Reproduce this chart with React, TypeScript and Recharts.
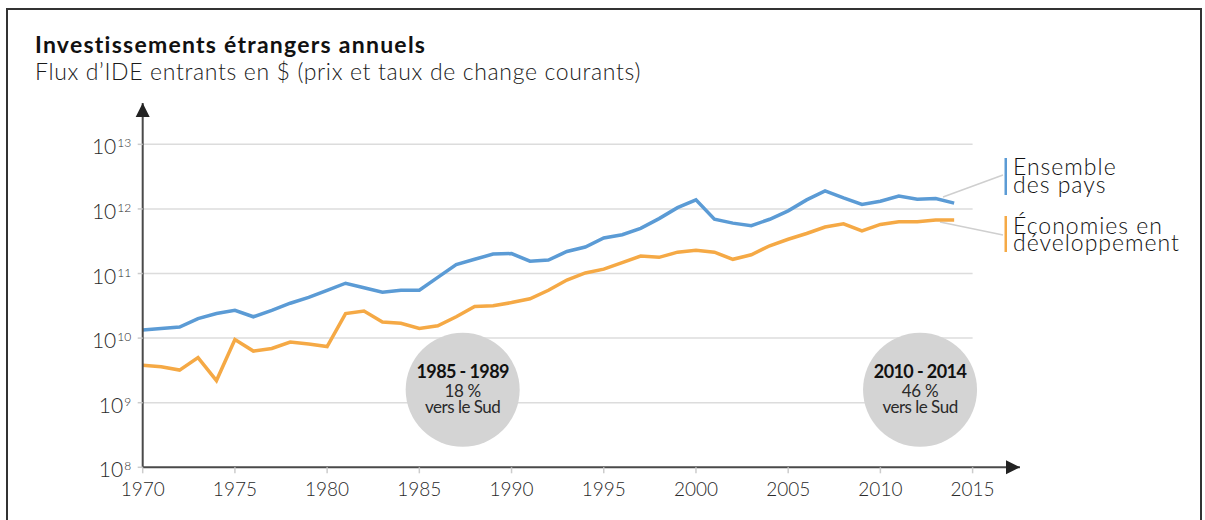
import React from "react";
import {
  LineChart,
  Line,
  XAxis,
  YAxis,
  ReferenceLine,
  ReferenceDot,
} from "recharts";

// Années 1970 → 2014
const years = [
  1970, 1971, 1972, 1973, 1974, 1975, 1976, 1977, 1978, 1979,
  1980, 1981, 1982, 1983, 1984, 1985, 1986, 1987, 1988, 1989,
  1990, 1991, 1992, 1993, 1994, 1995, 1996, 1997, 1998, 1999,
  2000, 2001, 2002, 2003, 2004, 2005, 2006, 2007, 2008, 2009,
  2010, 2011, 2012, 2013, 2014,
];

// Flux d'IDE entrants, en milliards de $
const ensembleDesPays = [
  13.3, 14.1, 14.8, 20.0, 24.0, 26.9, 21.4, 26.9, 34.7, 42.7,
  55, 70.8, 60.3, 51.3, 55, 55, 87, 138, 166, 200,
  204, 155, 162, 219, 257, 355, 398, 501, 708, 1047,
  1380, 692, 603, 550, 692, 933, 1380, 1905, 1479, 1175,
  1318, 1585, 1413, 1445, 1230,
];

const economiesEnDev = [
  3.8, 3.6, 3.2, 5.0, 2.2, 9.5, 6.3, 6.9, 8.7, 8.1,
  7.4, 24.0, 26.3, 17.8, 17.0, 14.1, 15.5, 21.4, 30.9, 31.6,
  35.5, 40.7, 55, 79.4, 102, 117, 148, 186, 178, 214,
  229, 214, 166, 195, 269, 339, 417, 525, 589, 457,
  575, 631, 631, 676, 676,
];

const xTicks = [1970, 1975, 1980, 1985, 1990, 1995, 2000, 2005, 2010, 2015];
const yTicks = [1e8, 1e9, 1e10, 1e11, 1e12, 1e13];
const gridValues = [1e9, 1e10, 1e11, 1e12, 1e13];

const bulles = [
  { x: 1987.35, periode: "1985 - 1989", part: "18 %" },
  { x: 2012.15, periode: "2010 - 2014", part: "46 %" },
];

const data = years.map((year, i) => ({
  year,
  monde: ensembleDesPays[i] * 1e9,
  sud: economiesEnDev[i] * 1e9,
}));

const FONT = "Lato, 'Noto Sans', sans-serif";
const BLEU = "#5b9bd5";
const ORANGE = "#f5a945";
const X_MAX = 2017.57;
const Y_MAX = Math.pow(10, 13.64);
const BULLE_Y = Math.pow(10, 9.2);

const XTick = ({ x, y, payload }: any) => (
  <text
    x={x}
    y={y + 23}
    textAnchor="middle"
    fontFamily={FONT}
    fontWeight={300}
    fontSize={19}
    fill="#2a2a2a"
  >
    {payload.value}
  </text>
);

const YTick = ({ x, y, payload }: any) => {
  const exp = Math.round(Math.log10(payload.value));
  return (
    <text
      x={x - 6.5}
      y={y + 10}
      textAnchor="end"
      fontFamily={FONT}
      fontWeight={300}
      fill="#2a2a2a"
    >
      <tspan fontSize={21}>10</tspan>
      <tspan fontSize={12} dx={1} dy={-7}>
        {exp}
      </tspan>
    </text>
  );
};

const Bulle = (periode: string, part: string) => (props: any) => {
  const { cx, cy } = props;
  return (
    <g>
      <circle cx={cx} cy={cy} r={57} fill="#d4d4d4" />
      <text
        x={cx}
        y={cy - 11.5}
        textAnchor="middle"
        fontFamily={FONT}
        fontWeight={700}
        fontSize={18}
        letterSpacing={-0.6}
        fill="#111"
      >
        {periode}
      </text>
      <text
        x={cx}
        y={cy + 7}
        textAnchor="middle"
        fontFamily={FONT}
        fontWeight={400}
        fontSize={17}
        letterSpacing={-0.3}
        fill="#2a2a2a"
      >
        {part}
      </text>
      <text
        x={cx}
        y={cy + 23.6}
        textAnchor="middle"
        fontFamily={FONT}
        fontWeight={400}
        fontSize={17}
        letterSpacing={-0.5}
        fill="#2a2a2a"
      >
        vers le Sud
      </text>
    </g>
  );
};

const FlecheDroite = ({ cx, cy }: any) => (
  <path d={`M${cx},${cy} L${cx - 14},${cy - 7} L${cx - 14},${cy + 7} Z`} fill="#222" />
);

const FlecheHaut = ({ cx, cy }: any) => (
  <path d={`M${cx},${cy} L${cx - 7},${cy + 14} L${cx + 7},${cy + 14} Z`} fill="#222" />
);

export default function App() {
  return (
    <div
      style={{
        position: "absolute",
        left: 0,
        top: 0,
        width: 1205,
        height: 520,
        overflow: "hidden",
        background: "#fff",
      }}
    >
      {/* cadre */}
      <div
        style={{
          position: "absolute",
          left: 6,
          top: 8,
          width: 1196,
          height: 600,
          border: "2px solid #333",
          boxSizing: "border-box",
        }}
      />

      {/* titres et légende */}
      <svg
        width={1205}
        height={520}
        style={{ position: "absolute", left: 0, top: 0 }}
      >
        <text x={35} y={53} fontFamily={FONT} fontWeight={700} fontSize={23} letterSpacing={1.25} fill="#111">
          Investissements étrangers annuels
        </text>
        <text x={35} y={80} fontFamily={FONT} fontWeight={300} fontSize={23} letterSpacing={0.65} fill="#1a1a1a">
          Flux d’IDE entrants en $ (prix et taux de change courants)
        </text>

        <line x1={943} y1={197} x2={1003} y2={175} stroke="#cfcfcf" strokeWidth={1.5} />
        <line x1={940} y1={222} x2={1003} y2={235} stroke="#cfcfcf" strokeWidth={1.5} />

        <rect x={1004.5} y={158} width={2.5} height={37} fill={BLEU} />
        <rect x={1004.5} y={216} width={2.5} height={36} fill={ORANGE} />

        <g fontFamily={FONT} fontWeight={300} fontSize={23} letterSpacing={1} fill="#111">
          <text x={1013} y={174.5}>Ensemble</text>
          <text x={1013} y={193}>des pays</text>
          <text x={1013} y={233.5}>Économies en</text>
          <text x={1013} y={251}>développement</text>
        </g>
      </svg>

      <div style={{ position: "absolute", left: 0, top: 0 }}>
        <LineChart
          width={1205}
          height={520}
          data={data}
          margin={{ top: 103, right: 185, bottom: 22.7, left: 0 }}
        >
          <XAxis
            dataKey="year"
            type="number"
            domain={[1970, X_MAX]}
            ticks={xTicks}
            allowDataOverflow
            height={30}
            axisLine={{ stroke: "#4a4a4a", strokeWidth: 2 }}
            tickLine={{ stroke: "#cccccc", strokeWidth: 1.5 }}
            tickSize={6}
            tickMargin={0}
            tick={<XTick />}
            interval={0}
          />
          <YAxis
            type="number"
            scale="log"
            domain={[1e8, Y_MAX]}
            ticks={yTicks}
            allowDataOverflow
            width={142.7}
            axisLine={{ stroke: "#4a4a4a", strokeWidth: 2 }}
            tickLine={{ stroke: "#cccccc", strokeWidth: 1.5 }}
            tickSize={5}
            tickMargin={0}
            tick={<YTick />}
            interval={0}
          />

          {gridValues.map((v) => (
            <ReferenceLine
              key={v}
              segment={[
                { x: 1970, y: v },
                { x: 2015, y: v },
              ]}
              stroke="#dcdcdc"
              strokeWidth={1.5}
            />
          ))}

          {bulles.map((b) => (
            <ReferenceDot
              key={b.periode}
              x={b.x}
              y={BULLE_Y}
              r={57}
              ifOverflow="visible"
              shape={Bulle(b.periode, b.part)}
            />
          ))}

          <Line
            type="linear"
            dataKey="monde"
            stroke={BLEU}
            strokeWidth={3.5}
            dot={false}
            isAnimationActive={false}
          />
          <Line
            type="linear"
            dataKey="sud"
            stroke={ORANGE}
            strokeWidth={3.5}
            dot={false}
            isAnimationActive={false}
          />

          <ReferenceDot x={X_MAX} y={1e8} r={1} ifOverflow="visible" shape={FlecheDroite} />
          <ReferenceDot x={1970} y={Y_MAX} r={1} ifOverflow="visible" shape={FlecheHaut} />
        </LineChart>
      </div>
    </div>
  );
}
